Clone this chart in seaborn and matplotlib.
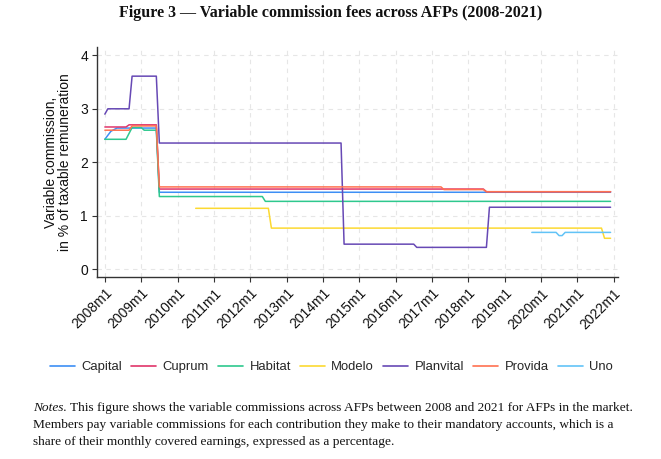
import numpy as np
import pandas as pd
import matplotlib
matplotlib.use("Agg")
import matplotlib.pyplot as plt
import seaborn as sns

sns.set_theme(style="white")
plt.rcParams['font.family'] = ['Liberation Sans', 'DejaVu Sans']

# commission change points (month, % of taxable remuneration)
capital_months = ["2008m1", "2008m3", "2008m5", "2009m6", "2009m7", "2021m12"]
capital_values = [2.43, 2.58, 2.64, 2.64, 1.44, 1.44]

cuprum_months = ["2008m1", "2008m8", "2008m9", "2009m6", "2009m7", "2018m6", "2018m7", "2021m12"]
cuprum_values = [2.66, 2.66, 2.70, 2.70, 1.50, 1.50, 1.45, 1.45]

habitat_months = ["2008m1", "2008m8", "2008m10", "2009m1", "2009m2", "2009m6", "2009m7",
                  "2012m5", "2012m6", "2021m12"]
habitat_values = [2.43, 2.43, 2.65, 2.65, 2.60, 2.60, 1.36, 1.36, 1.27, 1.27]

modelo_months = ["2010m7", "2012m7", "2012m8", "2021m9", "2021m10", "2021m12"]
modelo_values = [1.14, 1.14, 0.77, 0.77, 0.58, 0.58]

planvital_months = ["2008m1", "2008m2", "2008m9", "2008m10", "2009m6", "2009m7", "2014m7", "2014m8",
                    "2016m7", "2016m8", "2018m7", "2018m8", "2021m12"]
planvital_values = [2.90, 3.00, 3.00, 3.61, 3.61, 2.36, 2.36, 0.47, 0.47, 0.41, 0.41, 1.16, 1.16]

provida_months = ["2008m1", "2008m9", "2008m10", "2009m6", "2009m7", "2017m4", "2017m5",
                  "2018m6", "2018m7", "2021m12"]
provida_values = [2.60, 2.60, 2.68, 2.68, 1.54, 1.54, 1.49, 1.49, 1.45, 1.45]

uno_months = ["2019m10", "2020m6", "2020m7", "2020m8", "2020m9", "2021m12"]
uno_values = [0.69, 0.69, 0.63, 0.63, 0.69, 0.69]

afp_names = ["Capital", "Cuprum", "Habitat", "Modelo", "Planvital", "Provida", "Uno"]
afp_colors = ["#3d8ff5", "#e0356a", "#2ec88e", "#fcd931", "#6749b5", "#ff7150", "#62c3f7"]

tick_years = list(range(2008, 2023))
tick_labels = [f"{y}m1" for y in tick_years]


def month_index(s):
    y, m = s.split("m")
    return (int(y) - 2008) * 12 + int(m) - 1


series = {
    "Capital": (capital_months, capital_values),
    "Cuprum": (cuprum_months, cuprum_values),
    "Habitat": (habitat_months, habitat_values),
    "Modelo": (modelo_months, modelo_values),
    "Planvital": (planvital_months, planvital_values),
    "Provida": (provida_months, provida_values),
    "Uno": (uno_months, uno_values),
}

frames = []
for name, (months, values) in series.items():
    frames.append(pd.DataFrame({"t": [month_index(m) for m in months],
                                "value": values, "afp": name}))
df = pd.concat(frames, ignore_index=True)

fig = plt.figure(figsize=(6.61, 4.59), dpi=100)
ax = fig.add_axes([0.1467, 0.3965, 0.788, 0.5011])

# dashed grid underneath
ax.set_axisbelow(True)
ax.grid(True, color="#e6e6e6", linestyle=(0, (4, 4)), linewidth=0.8)

sns.lineplot(data=df, x="t", y="value", hue="afp", hue_order=afp_names,
             palette=dict(zip(afp_names, afp_colors)), estimator=None,
             linewidth=1.1, ax=ax, legend=False)

ax.set_xlim(-2.6, 169.4)
ax.set_ylim(-0.144, 4.155)
ax.set_xticks([(y - 2008) * 12 for y in tick_years])
ax.set_xticklabels(tick_labels, rotation=45, ha="right", rotation_mode="anchor", fontsize=10)
ax.set_yticks([0, 1, 2, 3, 4])
ax.set_yticklabels(["0", "1", "2", "3", "4"], fontsize=10)
ax.tick_params(axis="both", direction="out", length=3.5, width=0.8, color="#333333",
               colors="#111111", pad=3)
ax.tick_params(axis="both", which="both", bottom=True, left=True)

for side in ["top", "right"]:
    ax.spines[side].set_visible(False)
for side in ["left", "bottom"]:
    ax.spines[side].set_color("#333333")
    ax.spines[side].set_linewidth(1.0)

ax.set_xlabel("")
ax.set_ylabel("Variable commission,\nin % of taxable remuneration", fontsize=10,
              color="#111111", labelpad=6, linespacing=1.0)

handles = [plt.Line2D([], [], color=c, linewidth=1.2) for c in afp_colors]
fig.legend(handles, afp_names, loc="center", bbox_to_anchor=(0.5015, 0.2004), ncol=7,
           frameon=False, fontsize=9.4, handlelength=1.9, handletextpad=0.5,
           columnspacing=0.7)

serif = ["Liberation Serif", "DejaVu Serif"]
fig.text(0.5, 1 - 13 / 459, "Figure 3 \u2014 Variable commission fees across AFPs (2008-2021)",
         ha="center", va="center", fontsize=11.5, fontweight="bold", family=serif,
         color="#111111")

note_lines = [
    "This figure shows the variable commissions across AFPs between 2008 and 2021 for AFPs in the market.",
    "Members pay variable commissions for each contribution they make to their mandatory accounts, which is a",
    "share of their monthly covered earnings, expressed as a percentage.",
]
x0 = 33 / 661
note_y = [408, 425, 442]
note_size = 9.6
fig.canvas.draw()
lab = fig.text(x0, 1 - note_y[0] / 459, "Notes.", ha="left", va="center", fontsize=note_size,
               style="italic", family=serif, color="#111111")
bb = lab.get_window_extent(renderer=fig.canvas.get_renderer())
fig.text(bb.x1 / fig.bbox.width + 3 / 661, 1 - note_y[0] / 459, note_lines[0], ha="left",
         va="center", fontsize=note_size, family=serif, color="#111111")
for line, yy in zip(note_lines[1:], note_y[1:]):
    fig.text(x0, 1 - yy / 459, line, ha="left", va="center", fontsize=note_size, family=serif,
             color="#111111")

fig.savefig("out.png", dpi=100)
